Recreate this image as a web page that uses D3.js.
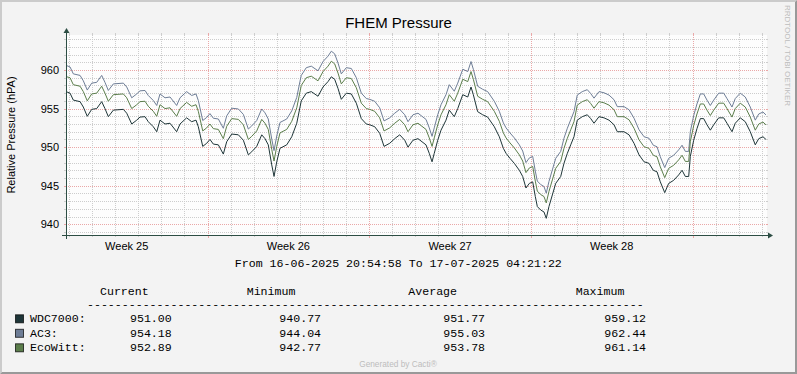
<!DOCTYPE html>
<html><head><meta charset="utf-8">
<script src="https://cdn.jsdelivr.net/npm/d3@7/dist/d3.min.js"></script>
<style>html,body{margin:0;padding:0;background:#F3F3F3;}svg{display:block}</style>
</head><body><svg id="c" width="797" height="374"></svg>
<script>
// ---------- DATA ----------
const startTime = Date.UTC(2025, 5, 16, 20, 54, 58);
const endTime = Date.UTC(2025, 6, 17, 4, 21, 22);
// hours since start
const hours = [
0,4.2,7.6,14.6,18.0,22.1,26.7,31.9,37.1,40.5,44.0,49.2,59.6,63.1,68.3,73.5,76.9,82.1,85.5,90.7,94.3,97.7,102.9,108.1,115.0,118.5,125.4,130.6,135.1,137.5,
142.1,146.2,149.6,153.1,158.3,163.5,167.0,172.2,179.1,184.3,189.5,193.0,198.2,203.4,206.8,210.2,213.8,216.2,219.0,222.4,229.4,234.6,239.8,243.2,
244.5,249.7,254.9,261.9,267.1,272.3,275.7,279.2,282.7,286.1,291.3,296.5,301.7,306.9,312.1,315.6,320.8,326.0,330.5,336.4,341.6,346.8,352.0,355.4,360.6,365.8,
368.9,374.1,377.5,380.4,382.7,386.3,389.7,394.9,398.3,403.5,407.1,412.3,417.5,420.9,423.3,427.8,433.0,438.2,445.1,450.3,454.5,457.3,461.4,465.9,471.1,474.6,478.0,481.5,485.0,487.7,489.8,493.3,496.7,499.1,
501.9,505.4,508.9,514.1,517.5,521.0,524.5,527.9,531.3,536.5,541.7,545.3,548.7,553.9,559.1,564.3,569.5,572.9,579.9,585.1,590.3,595.5,600.7,605.9,610.3,614.2,617.6,622.2,626.3,631.5,636.7,640.2,643.6,647.1,
648.8,652.3,655.7,659.2,662.7,666.1,669.6,673.1,678.3,683.5,686.9,692.1,695.5,700.7,705.9,711.1,716.3,719.9,724.3,727.4
];
const wdc7000 = [
957.2,957.0,956.1,955.9,955.2,954.0,954.9,955.0,955.9,955.0,953.95,954.8,954.9,954.4,953.0,953.5,953.9,953.95,953.3,952.65,952.0,953.5,953.0,953.1,952.0,953.0,953.8,953.3,953.5,952.65,
950.1,950.5,951.0,950.4,950.3,949.1,950.7,951.7,951.6,950.9,949.0,949.4,950.1,951.6,951.1,950.3,947.7,946.2,948.1,949.85,950.3,951.35,953.1,955.2,
956.0,957.0,957.2,956.6,957.8,958.5,959.12,958.8,957.6,956.2,957.0,956.9,955.7,953.7,953.0,952.9,952.65,951.8,950.1,950.5,951.1,951.6,950.9,950.0,950.9,951.1,
950.8,950.3,949.2,948.1,949.2,950.9,952.2,953.5,954.8,953.95,955.0,956.8,956.5,957.8,956.8,954.6,954.2,953.9,952.65,951.35,949.85,949.2,948.55,947.9,947.0,946.2,944.7,945.3,945.5,943.6,942.3,941.85,941.6,940.77,
942.3,943.8,945.3,946.2,947.9,949.2,950.3,951.35,953.5,953.95,954.2,953.7,953.1,953.95,953.8,953.5,952.9,952.0,952.0,951.6,950.5,949.0,948.1,947.9,947.0,946.8,945.5,944.1,945.3,945.7,946.4,947.0,946.2,946.2,
948.8,950.9,952.4,953.7,953.7,952.9,952.2,952.9,953.8,953.8,953.1,952.0,953.1,953.8,953.3,952.0,950.3,951.1,951.35,951.0
];
const ac3 = [
960.6,960.4,959.5,959.3,958.6,957.4,958.3,958.4,959.3,958.4,957.35,958.2,958.3,957.8,956.4,956.9,957.3,957.35,956.7,956.05,955.4,956.9,956.4,956.5,955.4,956.4,957.2,956.7,956.9,956.05,
953.45,953.85,954.35,953.75,953.65,952.45,954.05,955.05,954.95,954.25,952.35,952.75,953.45,954.95,954.45,953.65,951.05,949.55,951.45,953.2,953.65,954.7,956.45,958.55,
959.3,960.3,960.5,959.9,961.1,961.8,962.44,962.1,960.9,959.5,960.3,960.2,959.0,957.0,956.3,956.2,955.95,955.1,953.4,953.8,954.4,954.9,954.2,953.3,954.2,954.4,
954.1,953.6,952.5,951.4,952.5,954.2,955.5,956.8,958.1,957.25,958.3,960.1,959.8,961.1,960.1,957.9,957.5,957.2,955.95,954.65,953.15,952.5,951.85,951.2,950.3,949.5,948.0,948.6,948.8,946.9,945.6,945.15,944.9,944.04,
945.55,947.05,948.55,949.45,951.15,952.45,953.55,954.6,956.75,957.2,957.45,956.95,956.35,957.2,957.05,956.75,956.15,955.25,955.25,954.85,953.75,952.25,951.35,951.15,950.25,950.05,948.75,947.35,948.55,948.95,949.65,950.25,949.45,949.45,
952.0,954.1,955.6,956.9,956.9,956.1,955.4,956.1,957.0,957.0,956.3,955.2,956.3,957.0,956.5,955.2,953.5,954.3,954.55,954.18
];
const ecowitt = [
959.15,959.0,958.1,957.9,957.2,956.0,956.9,957.0,957.9,957.0,955.95,956.8,956.9,956.4,955.0,955.5,955.9,955.95,955.3,954.65,954.0,955.5,955.0,955.1,954.0,955.0,955.8,955.3,955.5,954.65,
952.1,952.5,953.0,952.4,952.3,951.1,952.7,953.7,953.6,952.9,951.0,951.4,952.1,953.6,953.1,952.3,949.7,948.2,950.1,951.85,952.3,953.35,955.1,957.2,
958.0,959.0,959.2,958.6,959.8,960.5,961.14,960.8,959.6,958.2,959.0,958.9,957.7,955.7,955.0,954.9,954.65,953.8,952.1,952.5,953.1,953.6,952.9,952.0,952.9,953.1,
952.8,952.3,951.2,950.1,951.2,952.9,954.2,955.5,956.8,955.95,957.0,958.8,958.5,959.8,958.8,956.6,956.2,955.9,954.65,953.35,951.85,951.2,950.55,949.9,949.0,948.2,946.7,947.3,947.5,945.6,944.3,943.85,943.6,942.77,
944.25,945.75,947.25,948.15,949.85,951.15,952.25,953.3,955.45,955.9,956.15,955.65,955.05,955.9,955.75,955.45,954.85,953.95,953.95,953.55,952.45,950.95,950.05,949.85,948.95,948.75,947.45,946.05,947.25,947.65,948.35,948.95,948.15,948.15,
950.7,952.8,954.3,955.6,955.6,954.8,954.1,954.8,955.7,955.7,955.0,953.9,955.0,955.7,955.2,953.9,952.2,953.0,953.25,952.89
];
const seriesNames = ["WDC7000:", "AC3:", "EcoWitt:"];
const seriesColors = ["#1E3538", "#6E7D96", "#5B7D4B"];
const legendCurrent = [951.00, 954.18, 952.89];
const legendMinimum = [940.77, 944.04, 942.77];
const legendAverage = [951.77, 955.03, 953.78];
const legendMaximum = [959.12, 962.44, 961.14];
const legendHeaders = ["Current", "Minimum", "Average", "Maximum"];
const yTickValues = [940, 945, 950, 955, 960];
const weekLabels = ["Week 25", "Week 26", "Week 27", "Week 28"];
const titleText = "FHEM Pressure";
const yAxisTitle = "Relative Pressure (hPA)";
const rangeText = "From 16-06-2025 20:54:58 To 17-07-2025 04:21:22";

// ---------- LAYOUT ----------
const W = 797, H = 374;
const X0 = 66, Y0 = 235, XS = 700, YS = 200;
const FONT = "'Liberation Sans', Arial, sans-serif";
const MONO = "'Liberation Mono', 'Courier New', monospace";
const GRID = "#CDCDCD", MGRID = "#EAA8A8", AXIS = "#2C4D43";

const svg = d3.select("#c");
svg.append("rect").attr("width", W).attr("height", H).attr("fill", "#F3F3F3");
svg.append("polygon").attr("points", `0,0 ${W},0 ${W-2},2 2,2 2,${H-2} 0,${H}`).attr("fill", "#CBCBCB");
svg.append("polygon").attr("points", `${W},0 ${W},${H} 0,${H} 2,${H-2} ${W-2},${H-2} ${W-2},2`).attr("fill", "#999999");

const x = d3.scaleUtc().domain([new Date(startTime), new Date(endTime)]).range([X0, X0 + XS]);
const y = d3.scaleLinear().domain([938.61, 964.54]).range([Y0, Y0 - YS]);

svg.append("rect").attr("x", X0).attr("y", Y0 - YS).attr("width", XS + 1).attr("height", YS).attr("fill", "#FDFDFD");

const g = svg.append("g");
const px = v => Math.round(v) + 0.5;
// horizontal grid
const hMinor = d3.range(939, 965, 1).filter(v => v % 5 !== 0);
const hMajor = d3.range(940, 965, 5);
function hLine(v, col) {
  const yy = px(y(v));
  g.append("line").attr("x1", X0).attr("x2", X0 + XS).attr("y1", yy).attr("y2", yy)
    .attr("stroke", col).attr("stroke-dasharray", "1,1");
  g.append("line").attr("x1", X0 - 2).attr("x2", X0).attr("y1", yy).attr("y2", yy).attr("stroke", col);
  g.append("line").attr("x1", X0 + XS).attr("x2", X0 + XS + 2).attr("y1", yy).attr("y2", yy).attr("stroke", col);
}
hMinor.forEach(v => hLine(v, GRID));
hMajor.forEach(v => hLine(v, MGRID));
// vertical grid
const days = d3.utcDay.range(new Date(startTime), new Date(endTime));
const mondays = d3.utcMonday.range(new Date(startTime), new Date(endTime));
const mondaySet = new Set(mondays.map(d => +d));
function vLine(d, col, major) {
  const xx = px(x(d));
  g.append("line").attr("x1", xx).attr("x2", xx).attr("y1", Y0 - YS).attr("y2", Y0)
    .attr("stroke", col).attr("stroke-dasharray", "1,1");
  g.append("line").attr("x1", xx).attr("x2", xx).attr("y1", Y0 - YS - 2).attr("y2", Y0 - YS).attr("stroke", col);
  g.append("line").attr("x1", xx).attr("x2", xx).attr("y1", Y0).attr("y2", Y0 + (major ? 3 : 2)).attr("stroke", col);
}
days.filter(d => !mondaySet.has(+d)).forEach(d => vLine(d, GRID));
mondays.forEach(d => vLine(d, MGRID, true));

// series
const allSeries = [wdc7000, ac3, ecowitt];
const line = d3.line().x((d, i) => x(new Date(startTime + hours[i] * 3600e3))).y(d => y(d));
allSeries.forEach((s, k) => {
  svg.append("path").datum(s).attr("d", line).attr("fill", "none")
    .attr("stroke", seriesColors[k]).attr("stroke-width", 1).attr("stroke-linejoin", "round");
});

// axes
svg.append("line").attr("x1", X0 - 4).attr("x2", X0 + XS + 4).attr("y1", Y0 + 0.5).attr("y2", Y0 + 0.5).attr("stroke", AXIS);
svg.append("line").attr("x1", X0 + 0.5).attr("x2", X0 + 0.5).attr("y1", Y0 + 4).attr("y2", Y0 - YS - 4).attr("stroke", AXIS);
svg.append("polygon").attr("points", `${X0+XS+2},${Y0-2.5} ${X0+XS+2},${Y0+3.5} ${X0+XS+7},${Y0+0.5}`).attr("fill", AXIS);
svg.append("polygon").attr("points", `${X0-2.5},${Y0-YS-2} ${X0+3.5},${Y0-YS-2} ${X0+0.5},${Y0-YS-7}`).attr("fill", AXIS);

// y tick labels
svg.selectAll("text.yt").data(yTickValues).enter().append("text")
  .attr("x", 59).attr("y", d => y(d) + 4).attr("text-anchor", "end")
  .attr("font-family", FONT).attr("font-size", 11).attr("fill", "#000").text(d => d);
// week labels
svg.selectAll("text.wk").data(mondays.slice(0, weekLabels.length)).enter().append("text")
  .attr("x", d => x(new Date(+d - 3.5 * 86400e3))).attr("y", 249.5).attr("text-anchor", "middle")
  .attr("font-family", FONT).attr("font-size", 11).attr("fill", "#000")
  .text((d, i) => weekLabels[i]);

// title
svg.append("text").attr("x", 398.5).attr("y", 28).attr("text-anchor", "middle")
  .attr("font-family", FONT).attr("font-size", 15).attr("fill", "#000").text(titleText);
svg.append("text").attr("transform", "translate(14.5,135) rotate(-90)").attr("text-anchor", "middle")
  .attr("font-family", FONT).attr("font-size", 11).attr("fill", "#000").text(yAxisTitle);
svg.append("text").attr("transform", "translate(784.5,5) rotate(90)").attr("text-anchor", "start")
  .attr("font-family", FONT).attr("font-size", 8).attr("fill", "#BDBDBD").text("RRDTOOL / TOBI OETIKER");

// range
svg.append("text").attr("x", 398.3).attr("y", 266.5).attr("text-anchor", "middle")
  .attr("font-family", MONO).attr("font-size", 11.6).attr("fill", "#000").text(rangeText);

// legend
const colX = [100, 246.7, 408.3, 575.7];
const valX = [130, 279.3, 443.3, 604.3];
legendHeaders.forEach((h, i) => {
  svg.append("text").attr("x", colX[i]).attr("y", 294.5).attr("font-family", MONO).attr("font-size", 11.6)
    .attr("fill", "#000").text(h);
});
svg.append("text").attr("x", 87).attr("y", 307.5).attr("font-family", MONO).attr("font-size", 11.6)
  .attr("fill", "#000").text("-".repeat(80));
const rowY = [322.3, 336.8, 351.3];
const cols = [legendCurrent, legendMinimum, legendAverage, legendMaximum];
seriesNames.forEach((n, k) => {
  const by = rowY[k];
  svg.append("rect").attr("x", 15.5).attr("y", by - 7.5).attr("width", 8).attr("height", 8)
    .attr("fill", seriesColors[k]).attr("stroke", "#000").attr("stroke-opacity", 0.7);
  svg.append("text").attr("x", 30).attr("y", by).attr("font-family", MONO).attr("font-size", 11.6)
    .attr("fill", "#000").text(n);
  cols.forEach((c, i) => {
    svg.append("text").attr("x", valX[i]).attr("y", by).attr("font-family", MONO).attr("font-size", 11.6)
      .attr("fill", "#000").text(c[k].toFixed(2));
  });
});
svg.append("text").attr("x", 398).attr("y", 366.5).attr("text-anchor", "middle")
  .attr("font-family", FONT).attr("font-size", 8.3).attr("fill", "#BDBDBD").text("Generated by Cacti®");
</script>
</body></html>
